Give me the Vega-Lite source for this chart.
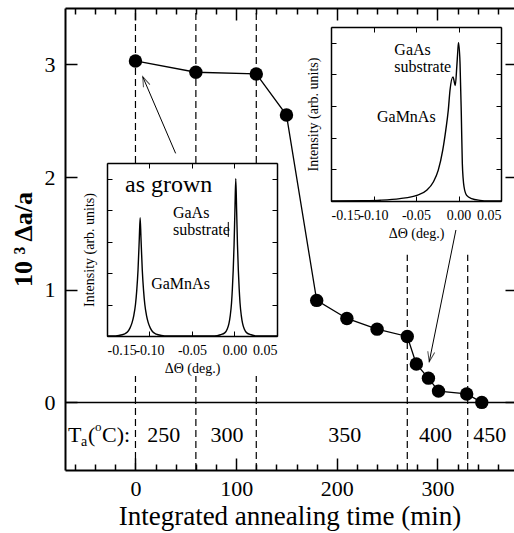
{
  "$schema": "https://vega.github.io/schema/vega-lite/v6.json",
  "width": 449,
  "height": 462,
  "autosize": {"type": "none"},
  "padding": {"left": 65, "top": 8, "right": 0, "bottom": 63},
  "background": "white",
  "config": {
    "view": {"stroke": null},
    "font": "Liberation Serif",
    "axis": {
      "labelFont": "Liberation Serif",
      "titleFont": "Liberation Serif",
      "labelColor": "black",
      "titleColor": "black",
      "tickColor": "black",
      "domainColor": "black",
      "grid": false,
      "titleFontWeight": "normal",
      "labelOverlap": false
    },
    "text": {"font": "Liberation Serif", "color": "black"}
  },
  "datasets": {
    "anneal": [
      {"t": 0, "d": 3.03},
      {"t": 60, "d": 2.93},
      {"t": 120, "d": 2.915},
      {"t": 150, "d": 2.55},
      {"t": 180, "d": 0.905},
      {"t": 210, "d": 0.745},
      {"t": 240, "d": 0.65},
      {"t": 270, "d": 0.585},
      {"t": 279, "d": 0.34},
      {"t": 291, "d": 0.215},
      {"t": 301, "d": 0.1},
      {"t": 329, "d": 0.075},
      {"t": 344, "d": 0.0}
    ],
    "steps": [
      {"t": 0, "lo": 2.124, "hi": 3.5},
      {"t": 0, "lo": -0.6, "hi": 0.234},
      {"t": 60, "lo": 2.124, "hi": 3.5},
      {"t": 60, "lo": -0.6, "hi": 0.234},
      {"t": 120, "lo": 2.124, "hi": 3.5},
      {"t": 120, "lo": -0.6, "hi": 0.234},
      {"t": 270, "lo": -0.6, "hi": 1.31},
      {"t": 330, "lo": -0.6, "hi": 1.31}
    ],
    "temps": [
      {"t": 28, "label": "250"},
      {"t": 91, "label": "300"},
      {"t": 208, "label": "350"},
      {"t": 298, "label": "400"},
      {"t": 352, "label": "450"}
    ],
    "arrows": [
      {"t": 39.9, "d": 2.21, "t2": 7.2, "d2": 2.89},
      {"t": 318.3, "d": 1.53, "t2": 291.8, "d2": 0.361}
    ],
    "asgrown": [
      {"theta": -0.15, "i": 0}, {"theta": -0.143, "i": 0}, {"theta": -0.136, "i": 0.004},
      {"theta": -0.13, "i": 0.012}, {"theta": -0.126, "i": 0.025}, {"theta": -0.123, "i": 0.05},
      {"theta": -0.1205, "i": 0.085}, {"theta": -0.1185, "i": 0.13}, {"theta": -0.1165, "i": 0.2},
      {"theta": -0.115, "i": 0.29}, {"theta": -0.1135, "i": 0.42}, {"theta": -0.112, "i": 0.62},
      {"theta": -0.111, "i": 0.752}, {"theta": -0.11, "i": 0.62}, {"theta": -0.1085, "i": 0.42},
      {"theta": -0.107, "i": 0.29}, {"theta": -0.1055, "i": 0.2}, {"theta": -0.1035, "i": 0.13},
      {"theta": -0.1015, "i": 0.085}, {"theta": -0.099, "i": 0.05}, {"theta": -0.096, "i": 0.025},
      {"theta": -0.092, "i": 0.012}, {"theta": -0.086, "i": 0.004}, {"theta": -0.079, "i": 0},
      {"theta": -0.0235, "i": 0}, {"theta": -0.0165, "i": 0.008}, {"theta": -0.0115, "i": 0.02},
      {"theta": -0.0085, "i": 0.045}, {"theta": -0.0065, "i": 0.08}, {"theta": -0.005, "i": 0.13},
      {"theta": -0.0035, "i": 0.21}, {"theta": -0.0025, "i": 0.3}, {"theta": -0.0015, "i": 0.42},
      {"theta": -0.0005, "i": 0.58}, {"theta": 0.0005, "i": 0.8}, {"theta": 0.0015, "i": 1.0},
      {"theta": 0.0025, "i": 0.8}, {"theta": 0.0035, "i": 0.58}, {"theta": 0.0045, "i": 0.42},
      {"theta": 0.0055, "i": 0.3}, {"theta": 0.0065, "i": 0.21}, {"theta": 0.008, "i": 0.13},
      {"theta": 0.0095, "i": 0.08}, {"theta": 0.0115, "i": 0.045}, {"theta": 0.0145, "i": 0.02},
      {"theta": 0.0195, "i": 0.008}, {"theta": 0.0265, "i": 0}, {"theta": 0.05, "i": 0}
    ],
    "annealed": [
      {"theta": -0.15, "i": 0}, {"theta": -0.11, "i": 0.002}, {"theta": -0.092, "i": 0.005},
      {"theta": -0.069, "i": 0.015}, {"theta": -0.049, "i": 0.036}, {"theta": -0.0374, "i": 0.068},
      {"theta": -0.0296, "i": 0.12}, {"theta": -0.0238, "i": 0.195}, {"theta": -0.0186, "i": 0.32},
      {"theta": -0.015, "i": 0.447}, {"theta": -0.012, "i": 0.575}, {"theta": -0.01, "i": 0.7},
      {"theta": -0.0065, "i": 0.785}, {"theta": -0.0038, "i": 0.73}, {"theta": -0.002, "i": 0.85},
      {"theta": -0.0008, "i": 0.95}, {"theta": 0.0, "i": 1.0}, {"theta": 0.0018, "i": 0.87},
      {"theta": 0.0033, "i": 0.55}, {"theta": 0.0045, "i": 0.237}, {"theta": 0.0065, "i": 0.09},
      {"theta": 0.0096, "i": 0.036}, {"theta": 0.0155, "i": 0.015}, {"theta": 0.0253, "i": 0.004},
      {"theta": 0.035, "i": 0}, {"theta": 0.05, "i": 0}
    ],
    "asgrownLabels": [
      {"theta": -0.0724, "i": 0.782, "label": "GaAs"},
      {"theta": -0.0724, "i": 0.674, "label": "substrate"},
      {"theta": -0.098, "i": 0.33, "label": "GaMnAs"}
    ],
    "annealedLabels": [
      {"theta": -0.0755, "i": 0.954, "label": "GaAs"},
      {"theta": -0.0755, "i": 0.847, "label": "substrate"},
      {"theta": -0.0959, "i": 0.531, "label": "GaMnAs"}
    ],
    "pointer": [
      {"theta": -0.0073, "lo": 0.63, "hi": 0.725}
    ]
  },
  "resolve": {
    "scale": {"x": "independent", "y": "independent"},
    "axis": {"x": "independent", "y": "independent"}
  },
  "layer": [
    {
      "data": {"name": "steps"},
      "mark": {"type": "rule", "color": "black", "strokeWidth": 1.2, "strokeDash": [7, 4]},
      "encoding": {
        "x": {"field": "t", "type": "quantitative",
              "scale": {"domain": [-70, 376], "nice": false, "zero": false},
              "axis": {"orient": "top", "values": [0, 100, 200, 300], "tickSize": -12, "tickWidth": 1.5,
                       "labels": false, "domainWidth": 2, "title": null}},
        "y": {"field": "lo", "type": "quantitative",
              "scale": {"domain": [-0.6, 3.5], "nice": false, "zero": false}, "axis": null},
        "y2": {"field": "hi"}
      }
    },
    {
      "data": {"values": [{}]},
      "mark": {"type": "rule", "color": "black", "strokeWidth": 1.5},
      "encoding": {
        "y": {"datum": 0, "type": "quantitative",
              "scale": {"domain": [-0.6, 3.5], "nice": false, "zero": false}, "axis": null}
      }
    },
    {
      "data": {"name": "anneal"},
      "mark": {"type": "line", "color": "black", "strokeWidth": 1.3},
      "encoding": {
        "x": {"field": "t", "type": "quantitative",
              "scale": {"domain": [-70, 376], "nice": false, "zero": false},
              "axis": {"orient": "bottom", "values": [0, 100, 200, 300], "tickSize": -12, "tickWidth": 1.5,
                       "domainWidth": 2, "labelFontSize": 22, "labelPadding": 20, "labelFlush": false,
                       "title": "Integrated annealing time (min)", "titleFontSize": 27, "titlePadding": 4}},
        "y": {"field": "d", "type": "quantitative",
              "scale": {"domain": [-0.6, 3.5], "nice": false, "zero": false},
              "axis": {"orient": "left", "values": [0, 1, 2, 3], "tickSize": -12, "tickWidth": 1.5,
                       "domainWidth": 2, "labelFontSize": 22, "labelPadding": 22,
                       "title": "10 ³ Δa/a", "titleFontSize": 26, "titleFontWeight": "bold", "titlePadding": 8}}
      }
    },
    {
      "data": {"name": "anneal"},
      "mark": {"type": "circle", "color": "black", "opacity": 1, "size": 180},
      "encoding": {
        "x": {"field": "t", "type": "quantitative",
              "scale": {"domain": [-70, 376], "nice": false, "zero": false},
              "axis": {"orient": "bottom", "values": [-60, -40, -20, 20, 40, 60, 80, 120, 140, 160, 180, 220, 240, 260, 280, 320, 340, 360],
                       "tickSize": -6, "tickWidth": 1.5, "labels": false, "domain": false, "title": null}},
        "y": {"field": "d", "type": "quantitative",
              "scale": {"domain": [-0.6, 3.5], "nice": false, "zero": false},
              "axis": {"orient": "right", "values": [0, 1, 2, 3], "tickSize": -12, "tickWidth": 1.5,
                       "labels": false, "domain": false, "title": null, "offset": 3}}
      }
    },
    {
      "data": {"name": "temps"},
      "mark": {"type": "text", "fontSize": 22, "align": "center", "baseline": "middle"},
      "encoding": {
        "x": {"field": "t", "type": "quantitative",
              "scale": {"domain": [-70, 376], "nice": false, "zero": false},
              "axis": {"orient": "top", "values": [-60, -40, -20, 20, 40, 60, 80, 120, 140, 160, 180, 220, 240, 260, 280, 320, 340, 360],
                       "tickSize": -6, "tickWidth": 1.5, "labels": false, "domain": false, "title": null}},
        "y": {"datum": -0.29, "type": "quantitative",
              "scale": {"domain": [-0.6, 3.5], "nice": false, "zero": false}, "axis": null},
        "text": {"field": "label"}
      }
    },
    {
      "data": {"values": [{}]},
      "encoding": {
        "x": {"datum": -67, "type": "quantitative",
              "scale": {"domain": [-70, 376], "nice": false, "zero": false}, "axis": null},
        "y": {"datum": -0.29, "type": "quantitative",
              "scale": {"domain": [-0.6, 3.5], "nice": false, "zero": false}, "axis": null}
      },
      "layer": [
        {"mark": {"type": "text", "text": "T", "fontSize": 22, "align": "left", "baseline": "middle", "dx": 0}},
        {"mark": {"type": "text", "text": "a", "fontSize": 14, "align": "left", "baseline": "middle", "dx": 13, "dy": 7}},
        {"mark": {"type": "text", "text": "(", "fontSize": 22, "align": "left", "baseline": "middle", "dx": 20}},
        {"mark": {"type": "text", "text": "o", "fontSize": 13, "align": "left", "baseline": "middle", "dx": 27, "dy": -8}},
        {"mark": {"type": "text", "text": "C):", "fontSize": 22, "align": "left", "baseline": "middle", "dx": 34}}
      ]
    },
    {
      "data": {"name": "arrows"},
      "mark": {"type": "rule", "color": "black", "strokeWidth": 1},
      "encoding": {
        "x": {"field": "t", "type": "quantitative",
              "scale": {"domain": [-70, 376], "nice": false, "zero": false}, "axis": null},
        "y": {"field": "d", "type": "quantitative",
              "scale": {"domain": [-0.6, 3.5], "nice": false, "zero": false}, "axis": null},
        "x2": {"field": "t2"},
        "y2": {"field": "d2"}
      }
    },
    {
      "data": {"name": "arrows"},
      "transform": [{"filter": "datum.t2 < 100"}],
      "mark": {"type": "point", "shape": "M-0.35,1L0,0L0.35,1", "filled": false, "stroke": "black",
               "strokeWidth": 1, "size": 400, "angle": 336.7},
      "encoding": {
        "x": {"field": "t2", "type": "quantitative",
              "scale": {"domain": [-70, 376], "nice": false, "zero": false}, "axis": null},
        "y": {"field": "d2", "type": "quantitative",
              "scale": {"domain": [-0.6, 3.5], "nice": false, "zero": false}, "axis": null}
      }
    },
    {
      "data": {"name": "arrows"},
      "transform": [{"filter": "datum.t2 > 100"}],
      "mark": {"type": "point", "shape": "M-0.35,1L0,0L0.35,1", "filled": false, "stroke": "black",
               "strokeWidth": 1, "size": 400, "angle": 191.5},
      "encoding": {
        "x": {"field": "t2", "type": "quantitative",
              "scale": {"domain": [-70, 376], "nice": false, "zero": false}, "axis": null},
        "y": {"field": "d2", "type": "quantitative",
              "scale": {"domain": [-0.6, 3.5], "nice": false, "zero": false}, "axis": null}
      }
    },
    {
      "data": {"name": "asgrown"},
      "mark": {"type": "line", "color": "black", "strokeWidth": 1.4, "interpolate": "monotone"},
      "encoding": {
        "x": {"field": "theta", "type": "quantitative",
              "scale": {"domain": [-0.15, 0.05], "range": [42, 212], "nice": false, "zero": false},
              "axis": {"orient": "bottom", "offset": -134, "values": [-0.15, -0.1, -0.05, 0, 0.05],
                       "labelExpr": "datum.value < 0 ? '-' + format(-datum.value, '.2f') : format(datum.value, '.2f')",
                       "labelFontSize": 14, "labelPadding": 12, "labelFlush": true,
                       "tickSize": -5, "tickWidth": 1, "domainWidth": 1.5,
                       "title": "ΔΘ (deg.)", "titleFontSize": 14, "titlePadding": 4}},
        "y": {"field": "i", "type": "quantitative",
              "scale": {"domain": [0, 1.1], "range": [328, 155], "nice": false, "zero": false},
              "axis": {"orient": "left", "offset": -42, "values": [0, 0.2, 0.4, 0.6, 0.8, 1.0],
                       "tickSize": -5, "tickWidth": 1, "labels": false, "domainWidth": 1.5,
                       "title": "Intensity (arb. units)", "titleFontSize": 14, "titlePadding": 10}}
      }
    },
    {
      "data": {"name": "asgrownLabels"},
      "mark": {"type": "text", "fontSize": 16, "align": "left", "baseline": "middle"},
      "encoding": {
        "x": {"field": "theta", "type": "quantitative",
              "scale": {"domain": [-0.15, 0.05], "range": [42, 212], "nice": false, "zero": false},
              "axis": {"orient": "top", "offset": -155, "values": [-0.15, -0.1, -0.05, 0, 0.05],
                       "tickSize": -5, "tickWidth": 1, "labels": false, "domainWidth": 1.5, "title": null}},
        "y": {"field": "i", "type": "quantitative",
              "scale": {"domain": [0, 1.1], "range": [328, 155], "nice": false, "zero": false},
              "axis": {"orient": "right", "offset": -237, "values": [0, 0.2, 0.4, 0.6, 0.8, 1.0],
                       "tickSize": -5, "tickWidth": 1, "labels": false, "domainWidth": 1.5, "title": null}},
        "text": {"field": "label"}
      }
    },
    {
      "data": {"values": [{"theta": -0.1288, "i": 0.96, "label": "as grown"}]},
      "mark": {"type": "text", "fontSize": 24, "align": "left", "baseline": "middle"},
      "encoding": {
        "x": {"field": "theta", "type": "quantitative",
              "scale": {"domain": [-0.15, 0.05], "range": [42, 212], "nice": false, "zero": false}, "axis": null},
        "y": {"field": "i", "type": "quantitative",
              "scale": {"domain": [0, 1.1], "range": [328, 155], "nice": false, "zero": false}, "axis": null},
        "text": {"field": "label"}
      }
    },
    {
      "data": {"name": "pointer"},
      "mark": {"type": "rule", "color": "black", "strokeWidth": 1},
      "encoding": {
        "x": {"field": "theta", "type": "quantitative",
              "scale": {"domain": [-0.15, 0.05], "range": [42, 212], "nice": false, "zero": false}, "axis": null},
        "y": {"field": "lo", "type": "quantitative",
              "scale": {"domain": [0, 1.1], "range": [328, 155], "nice": false, "zero": false}, "axis": null},
        "y2": {"field": "hi"}
      }
    },
    {
      "data": {"name": "annealed"},
      "mark": {"type": "line", "color": "black", "strokeWidth": 1.4, "interpolate": "monotone"},
      "encoding": {
        "x": {"field": "theta", "type": "quantitative",
              "scale": {"domain": [-0.15, 0.05], "range": [266, 436], "nice": false, "zero": false},
              "axis": {"orient": "bottom", "offset": -269, "values": [-0.15, -0.1, -0.05, 0, 0.05],
                       "labelExpr": "datum.value < 0 ? '-' + format(-datum.value, '.2f') : format(datum.value, '.2f')",
                       "labelFontSize": 14, "labelPadding": 12, "labelFlush": true,
                       "tickSize": -5, "tickWidth": 1, "domainWidth": 1.5,
                       "title": "ΔΘ (deg.)", "titleFontSize": 14, "titlePadding": 4}},
        "y": {"field": "i", "type": "quantitative",
              "scale": {"domain": [0, 1.1], "range": [193, 19], "nice": false, "zero": false},
              "axis": {"orient": "left", "offset": -266, "values": [0, 0.2, 0.4, 0.6, 0.8, 1.0],
                       "tickSize": -5, "tickWidth": 1, "labels": false, "domainWidth": 1.5,
                       "title": "Intensity (arb. units)", "titleFontSize": 14, "titlePadding": 10}}
      }
    },
    {
      "data": {"name": "annealedLabels"},
      "mark": {"type": "text", "fontSize": 16, "align": "left", "baseline": "middle"},
      "encoding": {
        "x": {"field": "theta", "type": "quantitative",
              "scale": {"domain": [-0.15, 0.05], "range": [266, 436], "nice": false, "zero": false},
              "axis": {"orient": "top", "offset": -19, "values": [-0.15, -0.1, -0.05, 0, 0.05],
                       "tickSize": -5, "tickWidth": 1, "labels": false, "domainWidth": 1.5, "title": null}},
        "y": {"field": "i", "type": "quantitative",
              "scale": {"domain": [0, 1.1], "range": [193, 19], "nice": false, "zero": false},
              "axis": {"orient": "right", "offset": -13, "values": [0, 0.2, 0.4, 0.6, 0.8, 1.0],
                       "tickSize": -5, "tickWidth": 1, "labels": false, "domainWidth": 1.5, "title": null}},
        "text": {"field": "label"}
      }
    }
  ]
}
